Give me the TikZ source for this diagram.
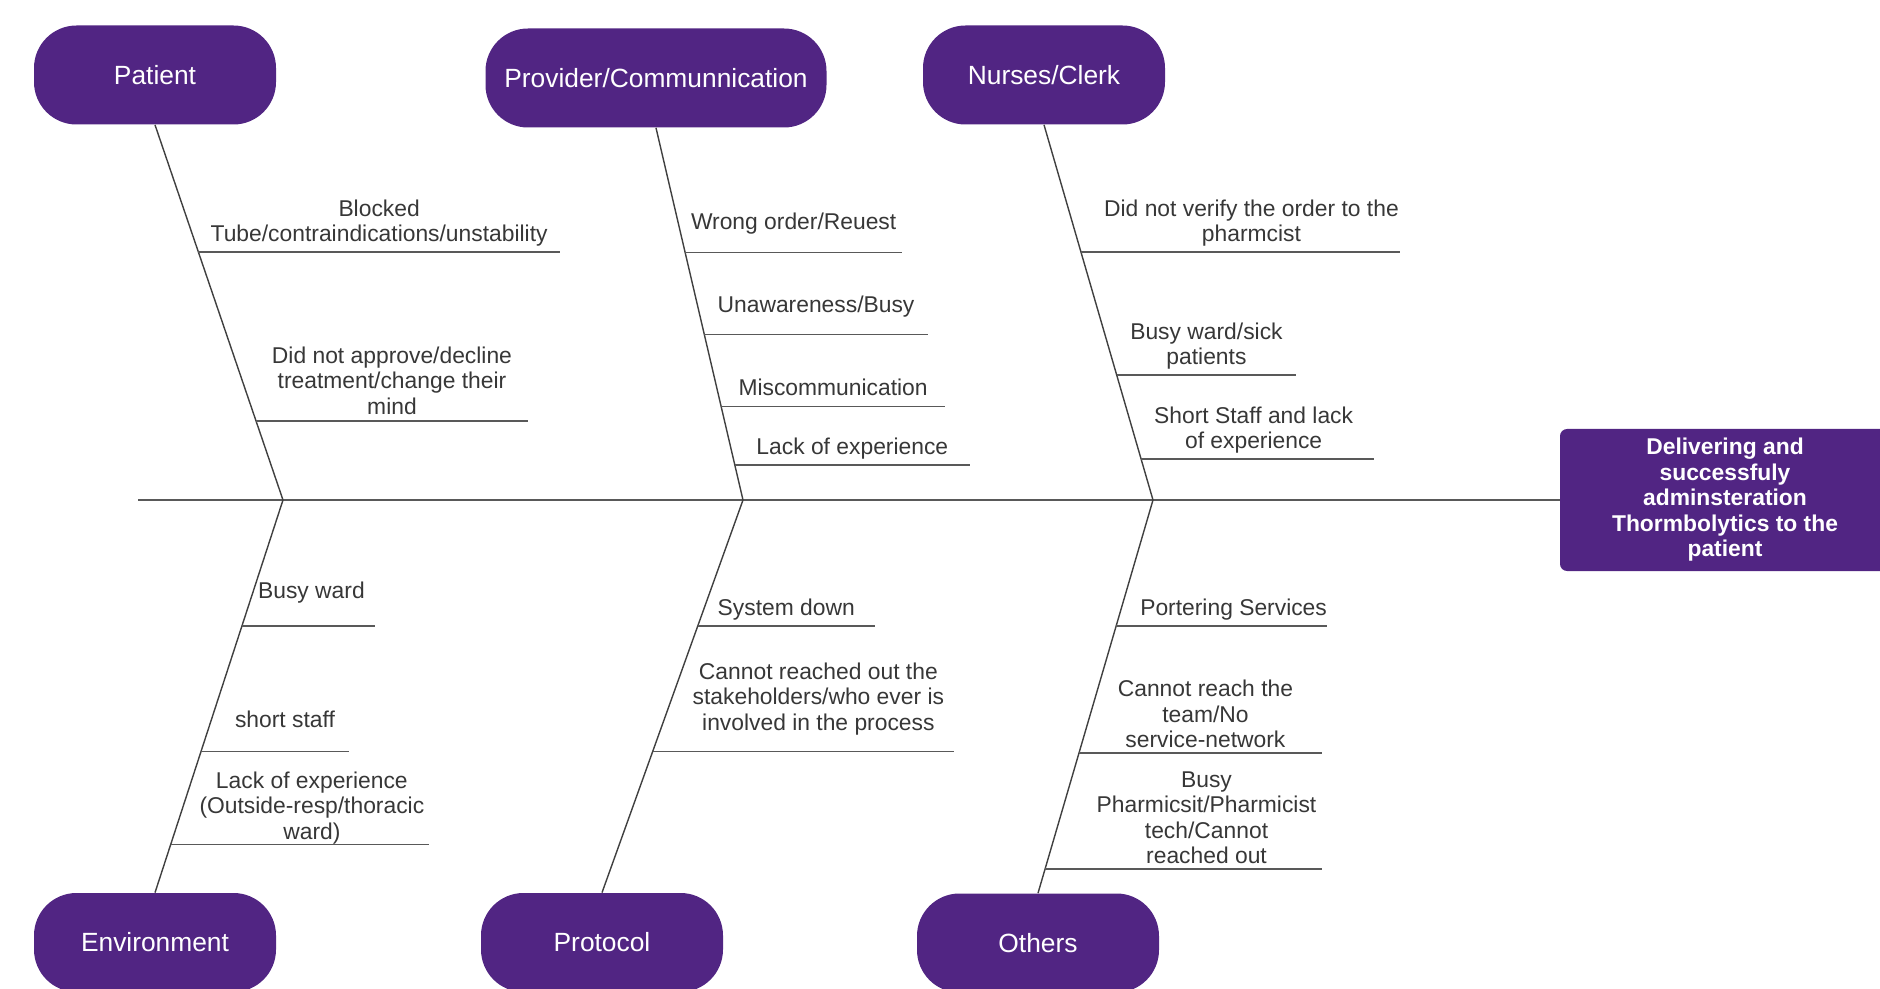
\documentclass[tikz,border=0pt]{standalone}
\usepackage{fontspec}
\setmainfont{Liberation Sans}
\definecolor{fishpurple}{RGB}{81, 37, 131}
\definecolor{labelgray}{RGB}{55, 55, 55}
\usetikzlibrary{calc}

\begin{document}
\begin{tikzpicture}[
  cause/.style={fill=fishpurple, rounded corners=0.85cm, minimum width=4.84cm, minimum height=1.98cm, text=white, font=\fontsize{15}{18}\selectfont},
  effect/.style={fill=fishpurple, rounded corners=4pt, minimum width=6.6cm, minimum height=2.84cm, align=center, text=white, font=\fontsize{13}{14.5}\selectfont\bfseries},
  bone/.style={line width=0.8pt, black!75},
  rib/.style={line width=0.8pt, black!65},
  lbl/.style={align=center, text=labelgray, font=\fontsize{13}{14.5}\selectfont, inner sep=3pt, text depth=0.25em}
]
  \useasboundingbox (0, 0) rectangle (37.6, 19.76);

  % head and spine
  \node[effect] (effect) at (34.5, 9.76) {Delivering and\\successfuly\\adminsteration\\Thormbolytics to the\\patient};
  \coordinate (tail) at (2.76, 9.76);
  \draw[rib] (tail) -- (effect.west);

  \coordinate (jpat) at (5.66, 9.76);
  \coordinate (jpro) at (14.86, 9.76);
  \coordinate (jnur) at (23.06, 9.76);

  % categories
  \node[cause] (pat) at (3.1, 18.26) {Patient};
  \node[cause, minimum width=6.82cm] (pro) at (13.12, 18.2) {Provider/Communnication};
  \node[cause] (nur) at (20.88, 18.26) {Nurses/Clerk};
  \node[cause] (env) at (3.1, 0.91) {Environment};
  \node[cause] (prot) at (12.04, 0.91) {Protocol};
  \node[cause] (oth) at (20.76, 0.9) {Others};

  \draw[bone] (pat.south) -- (jpat) -- (env.north);
  \draw[bone] (pro.south) -- (jpro) -- (prot.north);
  \draw[bone] (nur.south) -- (jnur) -- (oth.north);

  % Patient
  \draw[rib] ($(pat.south)!0.339!(jpat)$) -- +(7.23, 0) node[midway, above, lbl] {Blocked\\Tube/contraindications/unstability};
  \draw[rib] ($(pat.south)!0.789!(jpat)$) -- +(5.44, 0) node[midway, above, lbl, yshift=-0.08cm] {Did not approve/decline\\treatment/change their\\mind};

  % Provider/Communnication
  \draw[rib] ($(pro.south)!0.335!(jpro)$) -- +(4.34, 0) node[midway, above, lbl, yshift=0.26cm] {Wrong order/Reuest};
  \draw[rib] ($(pro.south)!0.555!(jpro)$) -- +(4.47, 0) node[midway, above, lbl, yshift=0.24cm] {Unawareness/Busy};
  \draw[rib] ($(pro.south)!0.748!(jpro)$) -- +(4.48, 0) node[midway, above, lbl] {Miscommunication};
  \draw[rib] ($(pro.south)!0.906!(jpro)$) -- +(4.70, 0) node[midway, above, lbl] {Lack of experience};

  % Nurses/Clerk
  \draw[rib] ($(nur.south)!0.339!(jnur)$) -- +(6.38, 0) node[midway, above, lbl, xshift=0.22cm] {Did not verify the order to the\\pharmcist};
  \draw[rib] ($(nur.south)!0.667!(jnur)$) -- +(3.59, 0) node[midway, above, lbl] {Busy ward/sick\\patients};
  \draw[rib] ($(nur.south)!0.891!(jnur)$) -- +(4.66, 0) node[midway, above, lbl, xshift=-0.08cm] {Short Staff and lack\\of experience};

  % Environment
  \draw[rib] ($(jpat)!0.321!(env.north)$) -- +(2.66, 0) node[midway, above, lbl, xshift=0.06cm, yshift=0.34cm] {Busy ward};
  \draw[rib] ($(jpat)!0.641!(env.north)$) -- +(2.96, 0) node[midway, above, lbl, xshift=0.2cm, yshift=0.28cm] {short staff};
  \draw[rib] ($(jpat)!0.878!(env.north)$) -- +(5.17, 0) node[midway, above, lbl, xshift=0.24cm, yshift=-0.1cm] {Lack of experience\\(Outside-resp/thoracic\\ward)};

  % Protocol
  \draw[rib] ($(jpro)!0.321!(prot.north)$) -- +(3.54, 0) node[midway, above, lbl] {System down};
  \draw[rib] ($(jpro)!0.641!(prot.north)$) -- +(6.03, 0) node[midway, above, lbl, xshift=0.3cm, yshift=0.22cm] {Cannot reached out the\\stakeholders/who ever is\\involved in the process};

  % Others
  \draw[rib] ($(jnur)!0.321!(oth.north)$) -- +(4.22, 0) node[midway, above, lbl, xshift=0.24cm] {Portering Services};
  \draw[rib] ($(jnur)!0.644!(oth.north)$) -- +(4.86, 0) node[midway, above, lbl, xshift=0.1cm, yshift=-0.1cm] {Cannot reach the\\team/No\\service-network};
  \draw[rib] ($(jnur)!0.939!(oth.north)$) -- +(5.54, 0) node[midway, above, lbl, xshift=0.46cm, yshift=-0.1cm] {Busy\\Pharmicsit/Pharmicist\\tech/Cannot\\reached out};
\end{tikzpicture}
\end{document}
